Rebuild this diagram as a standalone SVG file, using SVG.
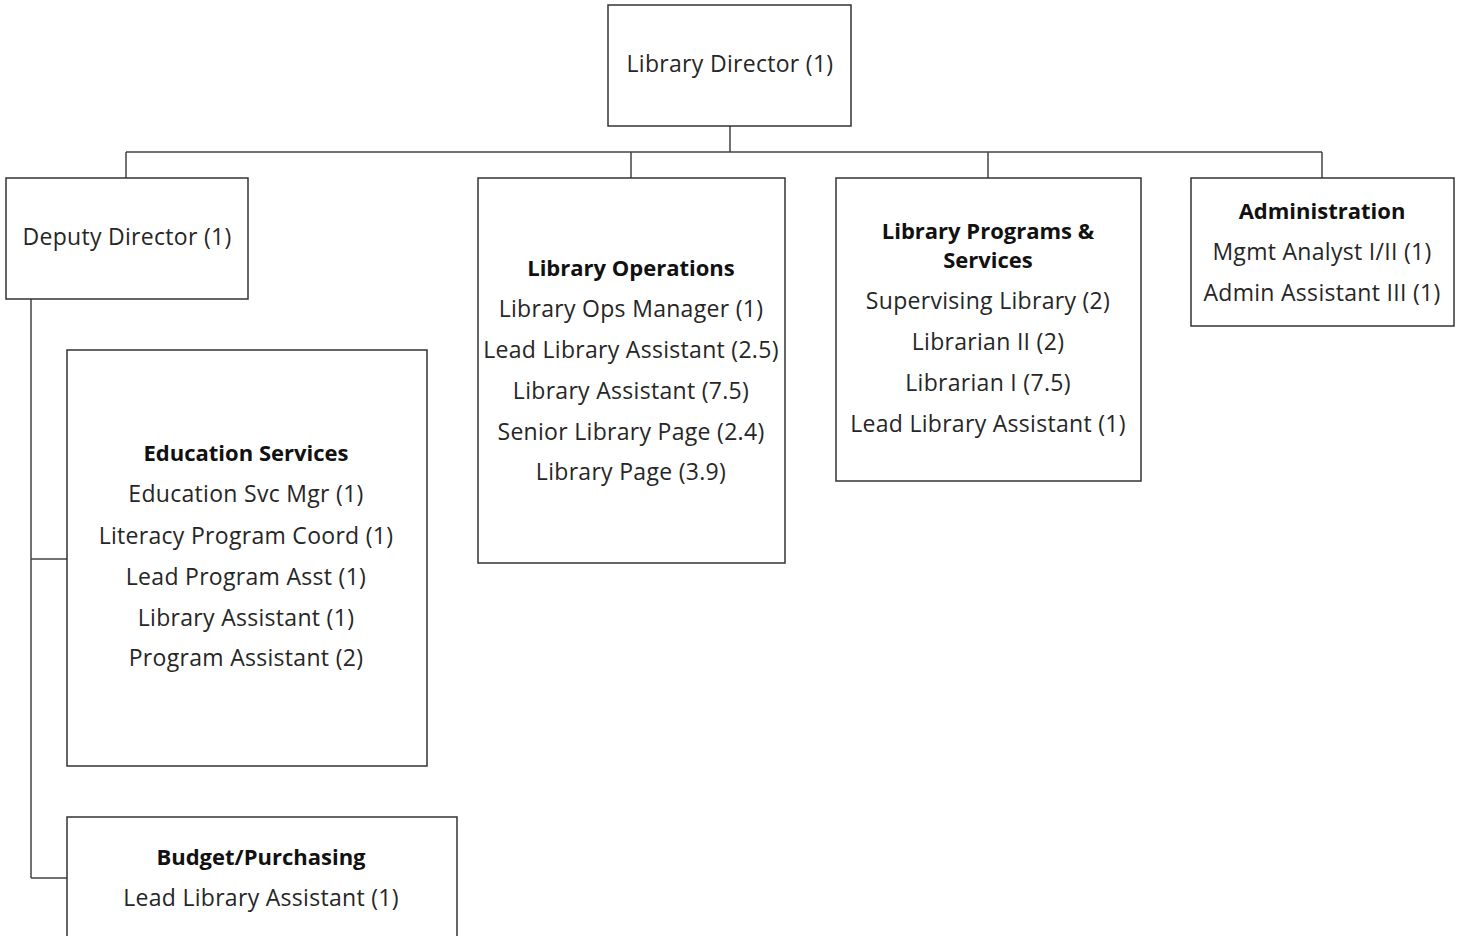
<svg xmlns="http://www.w3.org/2000/svg" width="1464" height="936" viewBox="0 0 1464 936">
<style>
.box{fill:#fff;stroke:#333;stroke-width:1.5}
.ln{fill:none;stroke:#444;stroke-width:1.5}
text{font-family:"Open Sans","Noto Sans",sans-serif;font-size:23px;letter-spacing:0.3px;fill:#262626;text-anchor:middle}
.t{font-weight:bold;font-size:22px;letter-spacing:0;fill:#111}
</style>
<rect width="1464" height="936" fill="#fff"/>
<g id="connectors">
<path class="ln" d="M730,126V152M126,152H1322M126,152V178M631,152V178M988,152V178M1322,152V178"/>
<path class="ln" d="M31,299V878M31,559H67M31,878H67"/>
</g>
<g id="director">
<rect class="box" x="608" y="5" width="243" height="121"/>
<text x="730" y="72">Library Director (1)</text>
</g>
<g id="deputy">
<rect class="box" x="6" y="178" width="242" height="121"/>
<text x="127" y="245">Deputy Director (1)</text>
</g>
<g id="operations">
<rect class="box" x="478" y="178" width="307" height="385"/>
<text class="t" x="631" y="276">Library Operations</text>
<text x="631" y="317">Library Ops Manager (1)</text>
<text x="631" y="358">Lead Library Assistant (2.5)</text>
<text x="631" y="399">Library Assistant (7.5)</text>
<text x="631" y="440">Senior Library Page (2.4)</text>
<text x="631" y="480">Library Page (3.9)</text>
</g>
<g id="programs">
<rect class="box" x="836" y="178" width="305" height="303"/>
<text class="t" x="988" y="239">Library Programs &amp;</text>
<text class="t" x="988" y="268">Services</text>
<text x="988" y="309">Supervising Library (2)</text>
<text x="988" y="350">Librarian II (2)</text>
<text x="988" y="391">Librarian I (7.5)</text>
<text x="988" y="432">Lead Library Assistant (1)</text>
</g>
<g id="administration">
<rect class="box" x="1191" y="178" width="263" height="148"/>
<text class="t" x="1322" y="219">Administration</text>
<text x="1322" y="260">Mgmt Analyst I/II (1)</text>
<text x="1322" y="301">Admin Assistant III (1)</text>
</g>
<g id="education">
<rect class="box" x="67" y="350" width="360" height="416"/>
<text class="t" x="246" y="461">Education Services</text>
<text x="246" y="502">Education Svc Mgr (1)</text>
<text x="246" y="544">Literacy Program Coord (1)</text>
<text x="246" y="585">Lead Program Asst (1)</text>
<text x="246" y="626">Library Assistant (1)</text>
<text x="246" y="666">Program Assistant (2)</text>
</g>
<g id="budget">
<rect class="box" x="67" y="817" width="390" height="130"/>
<text class="t" x="261" y="865">Budget/Purchasing</text>
<text x="261" y="906">Lead Library Assistant (1)</text>
</g>
</svg>
